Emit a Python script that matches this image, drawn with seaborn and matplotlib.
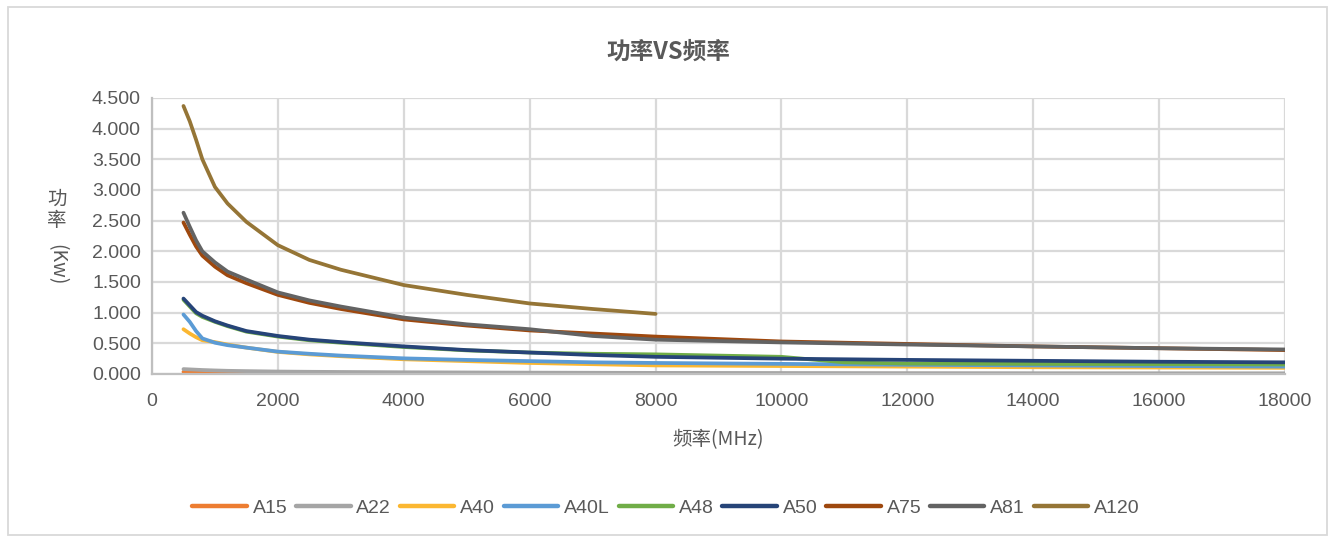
import matplotlib
matplotlib.use("Agg")
import matplotlib.pyplot as plt
import seaborn as sns
import pandas as pd
import numpy as np
from matplotlib.patches import Rectangle
from matplotlib.ticker import FormatStrFormatter, MultipleLocator

# ---------------- data ----------------
freq = [500, 600, 700, 800, 1000, 1200, 1500, 2000, 2500, 3000, 4000, 5000,
        6000, 7000, 8000, 10000, 12000, 14000, 16000, 18000]
freq_a48 = [500, 600, 700, 800, 1000, 1200, 1500, 2000, 2500, 3000, 4000, 5000,
            6000, 7000, 8000, 10000, 11000, 12000, 14000, 16000, 18000]
freq_a120 = [500, 600, 700, 800, 1000, 1200, 1500, 2000, 2500, 3000, 4000, 5000,
             6000, 7000, 8000]

a15 = [0.035, 0.031, 0.027, 0.024, 0.020, 0.017, 0.014, 0.011, 0.009, 0.008,
       0.006, 0.005, 0.004, 0.004, 0.003, 0.003, 0.003, 0.002, 0.002, 0.002]
a22 = [0.080, 0.075, 0.070, 0.065, 0.058, 0.052, 0.047, 0.040, 0.036, 0.033,
       0.028, 0.025, 0.022, 0.020, 0.018, 0.016, 0.014, 0.013, 0.012, 0.011]
a40 = [0.73, 0.66, 0.60, 0.55, 0.52, 0.48, 0.43, 0.36, 0.32, 0.29,
       0.24, 0.21, 0.18, 0.16, 0.14, 0.13, 0.12, 0.11, 0.105, 0.10]
a40l = [0.97, 0.85, 0.70, 0.58, 0.51, 0.47, 0.43, 0.365, 0.33, 0.30,
        0.255, 0.23, 0.21, 0.19, 0.18, 0.165, 0.15, 0.14, 0.13, 0.12]
a48 = [1.21, 1.10, 0.99, 0.93, 0.85, 0.78, 0.69, 0.61, 0.55, 0.51,
       0.44, 0.385, 0.35, 0.33, 0.32, 0.28, 0.19, 0.17, 0.165, 0.16, 0.155]
a50 = [1.23, 1.12, 1.01, 0.95, 0.86, 0.79, 0.70, 0.62, 0.56, 0.52,
       0.45, 0.39, 0.35, 0.31, 0.28, 0.25, 0.23, 0.215, 0.20, 0.19]
a75 = [2.47, 2.27, 2.08, 1.93, 1.75, 1.61, 1.48, 1.29, 1.16, 1.06,
       0.89, 0.79, 0.71, 0.66, 0.61, 0.53, 0.49, 0.45, 0.42, 0.39]
a81 = [2.63, 2.40, 2.18, 2.00, 1.82, 1.67, 1.54, 1.33, 1.20, 1.10,
       0.92, 0.81, 0.73, 0.62, 0.56, 0.515, 0.48, 0.45, 0.42, 0.40]
a120 = [4.37, 4.12, 3.82, 3.50, 3.05, 2.78, 2.48, 2.10, 1.86, 1.70,
        1.45, 1.29, 1.15, 1.06, 0.98]

series_names = ["A15", "A22", "A40", "A40L", "A48", "A50", "A75", "A81", "A120"]
series_x = [freq, freq, freq, freq, freq_a48, freq, freq, freq, freq_a120]
series_y = [a15, a22, a40, a40l, a48, a50, a75, a81, a120]
colors = ["#ED7D31", "#A5A5A5", "#FBB731", "#5B9BD5", "#70AD47",
          "#264478", "#9E480E", "#636363", "#957536"]

y_ticks = [0.0, 0.5, 1.0, 1.5, 2.0, 2.5, 3.0, 3.5, 4.0, 4.5]
x_ticks = [0, 2000, 4000, 6000, 8000, 10000, 12000, 14000, 16000, 18000]

title = "功率VS频率"
x_label = "频率(MHz)"

rows = []
for name, xs, ys in zip(series_names, series_x, series_y):
    for xv, yv in zip(xs, ys):
        rows.append({"freq": xv, "power": yv, "series": name})
df = pd.DataFrame(rows)

# ---------------- style ----------------
sns.set_theme(style="white")
plt.rcParams["font.family"] = ["Liberation Sans Narrow", "Liberation Sans", "Noto Sans CJK SC", "DejaVu Sans"]
cjk = ["Noto Sans CJK SC", "DejaVu Sans"]
textc = "#595959"
gridc = "#D9D9D9"

fig = plt.figure(figsize=(13.33, 5.42), dpi=100)
ax = fig.add_axes([152 / 1333, 1 - 374 / 542, (1285 - 152) / 1333, (374 - 98) / 542])

sns.lineplot(data=df, x="freq", y="power", hue="series", hue_order=series_names,
             palette=colors, estimator=None, sort=False, linewidth=2.7,
             ax=ax, legend=True)
for ln in ax.get_lines():
    ln.set_solid_joinstyle("round")
    ln.set_solid_capstyle("round")

ax.set_xlim(0, 18000)
ax.set_ylim(0, 4.5)
ax.set_xticks(x_ticks)
ax.set_yticks(y_ticks)
ax.yaxis.set_major_formatter(FormatStrFormatter("%.3f"))
ax.xaxis.set_major_formatter(FormatStrFormatter("%d"))
ax.grid(True, color=gridc, linewidth=1.6)
ax.set_axisbelow(True)
for s in ["top", "right"]:
    ax.spines[s].set_visible(False)
for s in ["left", "bottom"]:
    ax.spines[s].set_color("#BFBFBF")
    ax.spines[s].set_linewidth(1.6)
ax.tick_params(axis="both", length=0, labelsize=14, colors=textc)
ax.tick_params(axis="x", pad=14)
ax.tick_params(axis="y", pad=8)
for lab in ax.get_yticklabels():
    lab.set_family(["Liberation Sans", "DejaVu Sans"])
ax.set_xlabel("")
ax.set_ylabel("")

# legend
handles, labels = ax.get_legend_handles_labels()
ax.legend_.remove()
leg = fig.legend(handles, labels, loc="center", bbox_to_anchor=(666 / 1333, 1 - 508 / 542),
                 ncol=9, frameon=False, fontsize=14, handlelength=2.8,
                 columnspacing=0.45, handletextpad=0.3, labelcolor=textc)
for h in leg.legend_handles:
    h.set_linewidth(3.2)

# title & labels
fig.text(668 / 1333, 1 - 52 / 542, title, ha="center", va="center", fontsize=17,
         fontweight="bold", color=textc, family=cjk)
fig.text(718 / 1333, 1 - 440 / 542, x_label, ha="center", va="center", fontsize=14,
         color=textc, family=cjk)
fig.text(57 / 1333, 1 - 210 / 542, "功\n率", ha="center", va="center", fontsize=14,
         color=textc, family=cjk, linespacing=1.0)
fig.text(57 / 1333, 1 - 265 / 542, "(Kw)", ha="center", va="center", fontsize=14,
         color=textc, family=cjk, rotation=270)

# outer frame
fig.patches.append(Rectangle((8 / 1333, 7 / 542), 1319 / 1333, 528 / 542,
                             transform=fig.transFigure, fill=False,
                             edgecolor="#D9D9D9", linewidth=1.3))

fig.savefig("out.png", dpi=100, facecolor="white")
